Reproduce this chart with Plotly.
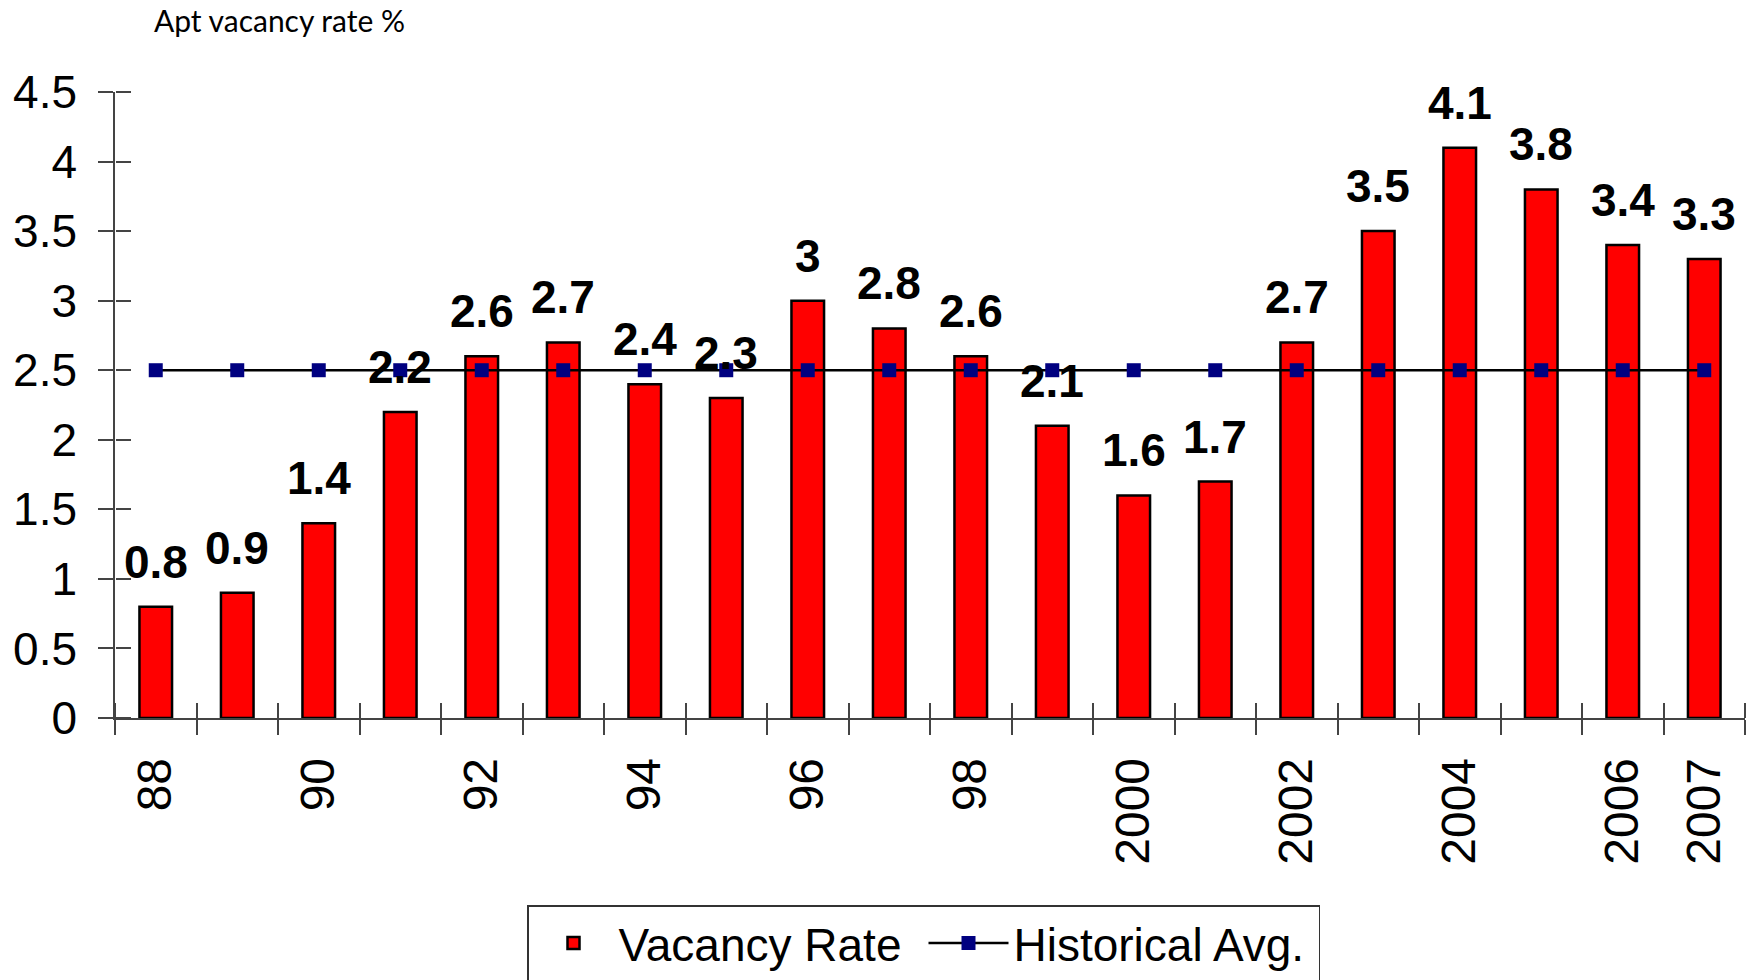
import plotly.graph_objects as go

years = ["88", "89", "90", "91", "92", "93", "94", "95", "96", "97",
         "98", "99", "2000", "2001", "2002", "2003", "2004", "2005", "2006", "2007"]
tick_labels = ["88", "", "90", "", "92", "", "94", "", "96", "",
               "98", "", "2000", "", "2002", "", "2004", "", "2006", "2007"]
vacancy = [0.8, 0.9, 1.4, 2.2, 2.6, 2.7, 2.4, 2.3, 3.0, 2.8,
           2.6, 2.1, 1.6, 1.7, 2.7, 3.5, 4.1, 3.8, 3.4, 3.3]
hist_avg = [2.5] * len(years)
value_labels = ["0.8", "0.9", "1.4", "2.2", "2.6", "2.7", "2.4", "2.3", "3", "2.8",
                "2.6", "2.1", "1.6", "1.7", "2.7", "3.5", "4.1", "3.8", "3.4", "3.3"]

FONT = "Liberation Sans, Arial, sans-serif"
AXC = "#444444"
idx = list(range(len(years)))

fig = go.Figure()
fig.add_trace(go.Bar(
    x=years, y=vacancy, name="Vacancy Rate",
    marker=dict(color="#FF0000", line=dict(color="black", width=2.5)),
    width=0.4,
))
# historical average drawn on the overlay axes (same ranges as the main axes)
fig.add_trace(go.Scatter(
    x=idx, y=hist_avg, name="Historical Avg.", mode="lines+markers",
    xaxis="x2", yaxis="y2",
    line=dict(color="black", width=2.5),
    marker=dict(symbol="square", size=14, color="#000080"),
))

for i, v, t in zip(idx, vacancy, value_labels):
    fig.add_annotation(x=i, y=v, xref="x", yref="y", text=t, showarrow=False,
                       yanchor="middle", yshift=45,
                       font=dict(family=FONT, size=46, color="black", weight="bold"))

fig.add_annotation(xref="paper", yref="paper", x=(152 - 115) / 1630, y=1 + (92 - 20) / 625.5,
                   xanchor="left", yanchor="middle", showarrow=False,
                   text="Apt vacancy rate %",
                   font=dict(family="Lato, Open Sans, sans-serif", size=30, color="black"))

fig.update_layout(
    width=1752, height=980,
    margin=dict(l=115, r=7, t=92, b=262, autoexpand=False),
    plot_bgcolor="white", paper_bgcolor="white",
    showlegend=True,
    legend=dict(orientation="h", xref="container", yref="container",
                x=527 / 1752, y=1 - 905 / 980,
                xanchor="left", yanchor="top",
                font=dict(family=FONT, size=46, color="black"),
                bordercolor="#333333", borderwidth=1.5, bgcolor="white",
                itemwidth=80, entrywidth=300, entrywidthmode="pixels"),
    xaxis=dict(type="category", categoryorder="array", categoryarray=years,
               tickmode="array", tickvals=years, ticktext=tick_labels,
               tickangle=-90, tickson="boundaries", ticks="outside", ticklen=15,
               tickwidth=1.5, tickcolor=AXC, showline=True, linecolor=AXC, linewidth=1.5,
               showgrid=False, ticklabelstandoff=19, automargin=False,
               tickfont=dict(family=FONT, size=48, color="black"),
               range=[-0.5, 19.5]),
    # second x axis at the bottom edge, ticks pointing up into the plot
    xaxis2=dict(overlaying="x", anchor="free", position=0, side="top",
                range=[-0.5, 19.5], tick0=-0.5, dtick=1,
                ticks="outside", ticklen=15, tickwidth=1.5, tickcolor=AXC,
                showticklabels=False, showgrid=False, zeroline=False, showline=False,
                automargin=False),
    yaxis=dict(range=[0, 4.5], dtick=0.5, ticks="outside", ticklen=15, tickwidth=1.5,
               tickcolor=AXC, showline=True, linecolor=AXC, linewidth=1.5,
               showgrid=False, zeroline=False, ticklabelstandoff=12, automargin=False,
               tickfont=dict(family=FONT, size=46, color="black")),
    # second y axis at the left edge, ticks pointing right into the plot
    yaxis2=dict(overlaying="y", anchor="free", position=0, side="right",
                range=[0, 4.5], dtick=0.5, ticks="outside",
                ticklen=15, tickwidth=1.5, tickcolor=AXC, showticklabels=False,
                showgrid=False, zeroline=False, showline=False, automargin=False),
)

fig.write_html("out.html", config={"displayModeBar": False},
               post_script="document.body.style.margin='0';document.body.style.overflow='hidden';")
